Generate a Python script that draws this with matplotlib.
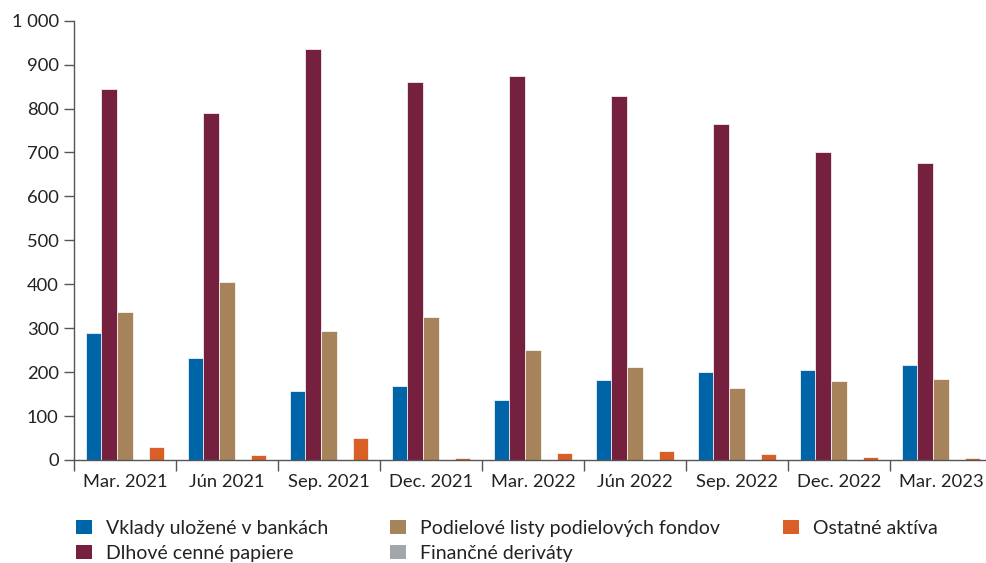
import matplotlib
matplotlib.use("Agg")
import matplotlib.pyplot as plt
import numpy as np
from matplotlib.patches import Patch

plt.rcParams['font.family'] = ['Lato', 'DejaVu Sans']

categories = ["Mar. 2021", "Jún 2021", "Sep. 2021", "Dec. 2021", "Mar. 2022",
              "Jún 2022", "Sep. 2022", "Dec. 2022", "Mar. 2023"]
series_names = ["Vklady uložené v bankách", "Dlhové cenné papiere",
                "Podielové listy podielových fondov", "Finančné deriváty",
                "Ostatné aktíva"]
vklady = [289, 232, 158, 168, 137, 181, 200, 206, 216]
dlhove = [844, 790, 936, 860, 874, 829, 764, 702, 676]
podielove = [336, 405, 293, 326, 250, 211, 164, 180, 185]
derivaty = [0, 0, 0, 0, 0, 0, 0, 0, 1]
ostatne = [30, 11, 51, 4, 17, 20, 14, 6, 5]
yticks = [0, 100, 200, 300, 400, 500, 600, 700, 800, 900, 1000]
ytick_labels = ["0", "100", "200", "300", "400", "500", "600", "700", "800", "900", "1 000"]

colors = ["#0065A8", "#74203E", "#A6835A", "#A2A7AA", "#D95F27"]
data = [vklady, dlhove, podielove, derivaty, ostatne]

fig = plt.figure(figsize=(9.87, 5.63), dpi=100)
ax = fig.add_axes([74/987, 1-460/563, 918/987, (460-20.7)/563])

x = np.arange(len(categories))
bw = 0.154
for i, (vals, c) in enumerate(zip(data, colors)):
    ax.bar(x + (i - 2) * bw, vals, width=bw, color=c, linewidth=0.5, edgecolor='white')

ax.set_xlim(-0.5, len(categories) - 0.5)
ax.set_ylim(0, 1000)
ax.set_yticks(yticks)
ax.set_yticklabels(ytick_labels)
ax.set_xticks(x)
ax.set_xticklabels(categories)
ax.set_xticks(np.arange(len(categories)) - 0.5, minor=True)
ax.tick_params(axis='x', which='major', length=0, pad=10, labelsize=13.2, colors='#222222')
ax.tick_params(axis='x', which='minor', length=8, width=1, color='#555555')
ax.tick_params(axis='y', length=7, width=1, color='#555555', labelsize=13.2, labelcolor='#222222', pad=4)
for s in ['top', 'right']:
    ax.spines[s].set_visible(False)
for s in ['left', 'bottom']:
    ax.spines[s].set_color('#555555')
    ax.spines[s].set_linewidth(1)

handles = [Patch(facecolor=c, label=n) for c, n in zip(colors, series_names)]
leg = fig.legend(handles=handles, loc='upper left', bbox_to_anchor=(76/987, 1-520/563),
                 ncol=3, frameon=False, fontsize=14, handlelength=0.82, handleheight=0.77,
                 handletextpad=0.72, columnspacing=3.2, labelspacing=0.4, borderpad=0,
                 borderaxespad=0, labelcolor='#222222')

fig.savefig("out.png", dpi=100)
